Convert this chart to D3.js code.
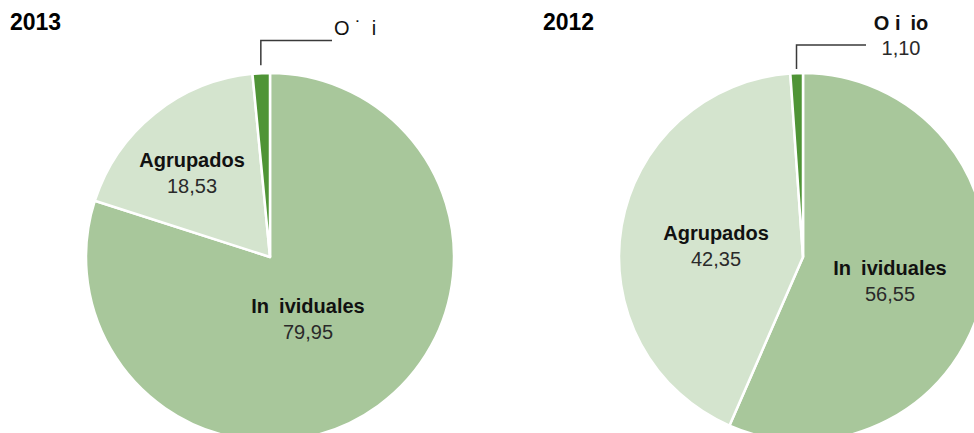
<!DOCTYPE html>
<html lang="es">
<head>
	<meta charset="UTF-8">
	<title>Pie charts 2013 / 2012</title>
	<script src="https://d3js.org/d3.v7.min.js"></script>
	<style>
		body{
			margin: 0;
			background: #fff;
			font-family: "Liberation Sans", Arial, Helvetica, sans-serif;
		}
		svg{
			display: block;
			overflow: hidden;
		}
	</style>
</head>
<body>
	<div id="chart"></div>
	<script>
		// data
		var categories = ["Individuales", "Agrupados", "Otros"];
		var years = ["2013", "2012"];
		var values2013 = [79.95, 18.53, 1.52];
		var values2012 = [56.55, 42.35, 1.10];
		// labels as they appear in the picture (some glyphs are missing there)
		var names2013 = ["In\u2002ividuales", "Agrupados", "O \u02D9\u2002i"];
		var names2012 = ["In\u2002ividuales", "Agrupados", "O i\u2002io"];
		var showValue2013 = [true, true, false];
		var showValue2012 = [true, true, true];

		var width = 974;
		var height = 433;
		var radius = 184;

		var colors = d3.scaleOrdinal()
			.domain(categories)
			.range(['#a8c79b', '#d4e4ce', '#4f9436']);

		var locale = d3.formatLocale({decimal: ',', thousands: '.', grouping: [3], currency: ['', '€']});
		var fmt = locale.format('.2f');

		// layout of the two pies (dx/dy = baseline of the name, relative to centre)
		var pies = [
			{year: years[0], values: values2013, names: names2013, show: showValue2013,
			 cx: 270, cy: 257, titleX: 10,
			 inner: [{dx: 38, dy: 56}, {dx: -78, dy: -90}],
			 lead: {gap: 8, elbowY: 40.5, endX: 332, textX: 334, textY: 35, anchor: 'start', weight: 'normal'}},
			{year: years[1], values: values2012, names: names2012, show: showValue2012,
			 cx: 803, cy: 257, titleX: 543,
			 inner: [{dx: 87, dy: 18}, {dx: -87, dy: -17}],
			 lead: {gap: 4, elbowY: 45, endX: 866, textX: 901, textY: 30, anchor: 'middle', weight: 'bold'}}
		];

		var svg = d3.select('#chart').append('svg')
			.attr('width', width)
			.attr('height', height);

		var pie = d3.pie().sort(null).value(function(d){ return d.value; });
		var arc = d3.arc().innerRadius(0).outerRadius(radius);

		pies.forEach(function(p){
			var data = categories.map(function(c, i){
				return {cat: c, value: p.values[i], name: p.names[i], show: p.show[i]};
			});
			var arcs = pie(data);

			svg.append('text')
				.attr('x', p.titleX)
				.attr('y', 30)
				.style('font-size', '23px')
				.style('font-weight', 'bold')
				.attr('fill', '#000')
				.text(p.year);

			var g = svg.append('g')
				.attr('transform', 'translate(' + p.cx + ',' + p.cy + ')');

			g.selectAll('path')
				.data(arcs)
				.enter()
				.append('path')
				.attr('d', arc)
				.attr('fill', function(d){ return colors(d.data.cat); })
				.attr('stroke', '#fff')
				.attr('stroke-width', 2.5)
				.attr('stroke-linejoin', 'round');

			// labels inside the two big slices
			arcs.slice(0, 2).forEach(function(d, i){
				var pos = p.inner[i];
				var t = g.append('text')
					.attr('text-anchor', 'middle')
					.attr('x', pos.dx)
					.attr('y', pos.dy);
				t.append('tspan')
					.attr('x', pos.dx)
					.style('font-size', '20px')
					.style('font-weight', 'bold')
					.attr('fill', '#111')
					.text(d.data.name);
				t.append('tspan')
					.attr('x', pos.dx)
					.attr('dy', 26)
					.style('font-size', '20px')
					.attr('fill', '#2a2a2a')
					.text(fmt(d.data.value));
			});

			// leader for the small slice
			var small = arcs[2];
			var mid = (small.startAngle + small.endAngle) / 2;
			var x0 = Math.sin(mid) * (radius + p.lead.gap);
			var y0 = -Math.cos(mid) * (radius + p.lead.gap);
			var ey = p.lead.elbowY - p.cy;
			g.append('path')
				.attr('d', 'M' + x0 + ',' + y0 + 'V' + ey + 'H' + (p.lead.endX - p.cx))
				.attr('fill', 'none')
				.attr('stroke', '#3a3a3a')
				.attr('stroke-width', 1.5);

			var lt = svg.append('text')
				.attr('x', p.lead.textX)
				.attr('y', p.lead.textY)
				.attr('text-anchor', p.lead.anchor)
				.style('white-space', 'pre');
			lt.append('tspan')
				.style('font-size', '20px')
				.style('font-weight', p.lead.weight)
				.attr('fill', '#111')
				.text(small.data.name);
			if(small.data.show){
				lt.append('tspan')
					.attr('x', p.lead.textX)
					.attr('dy', 25)
					.style('font-size', '20px')
					.attr('fill', '#2a2a2a')
					.text(fmt(small.data.value));
			}
		});
	</script>
</body>
</html>
